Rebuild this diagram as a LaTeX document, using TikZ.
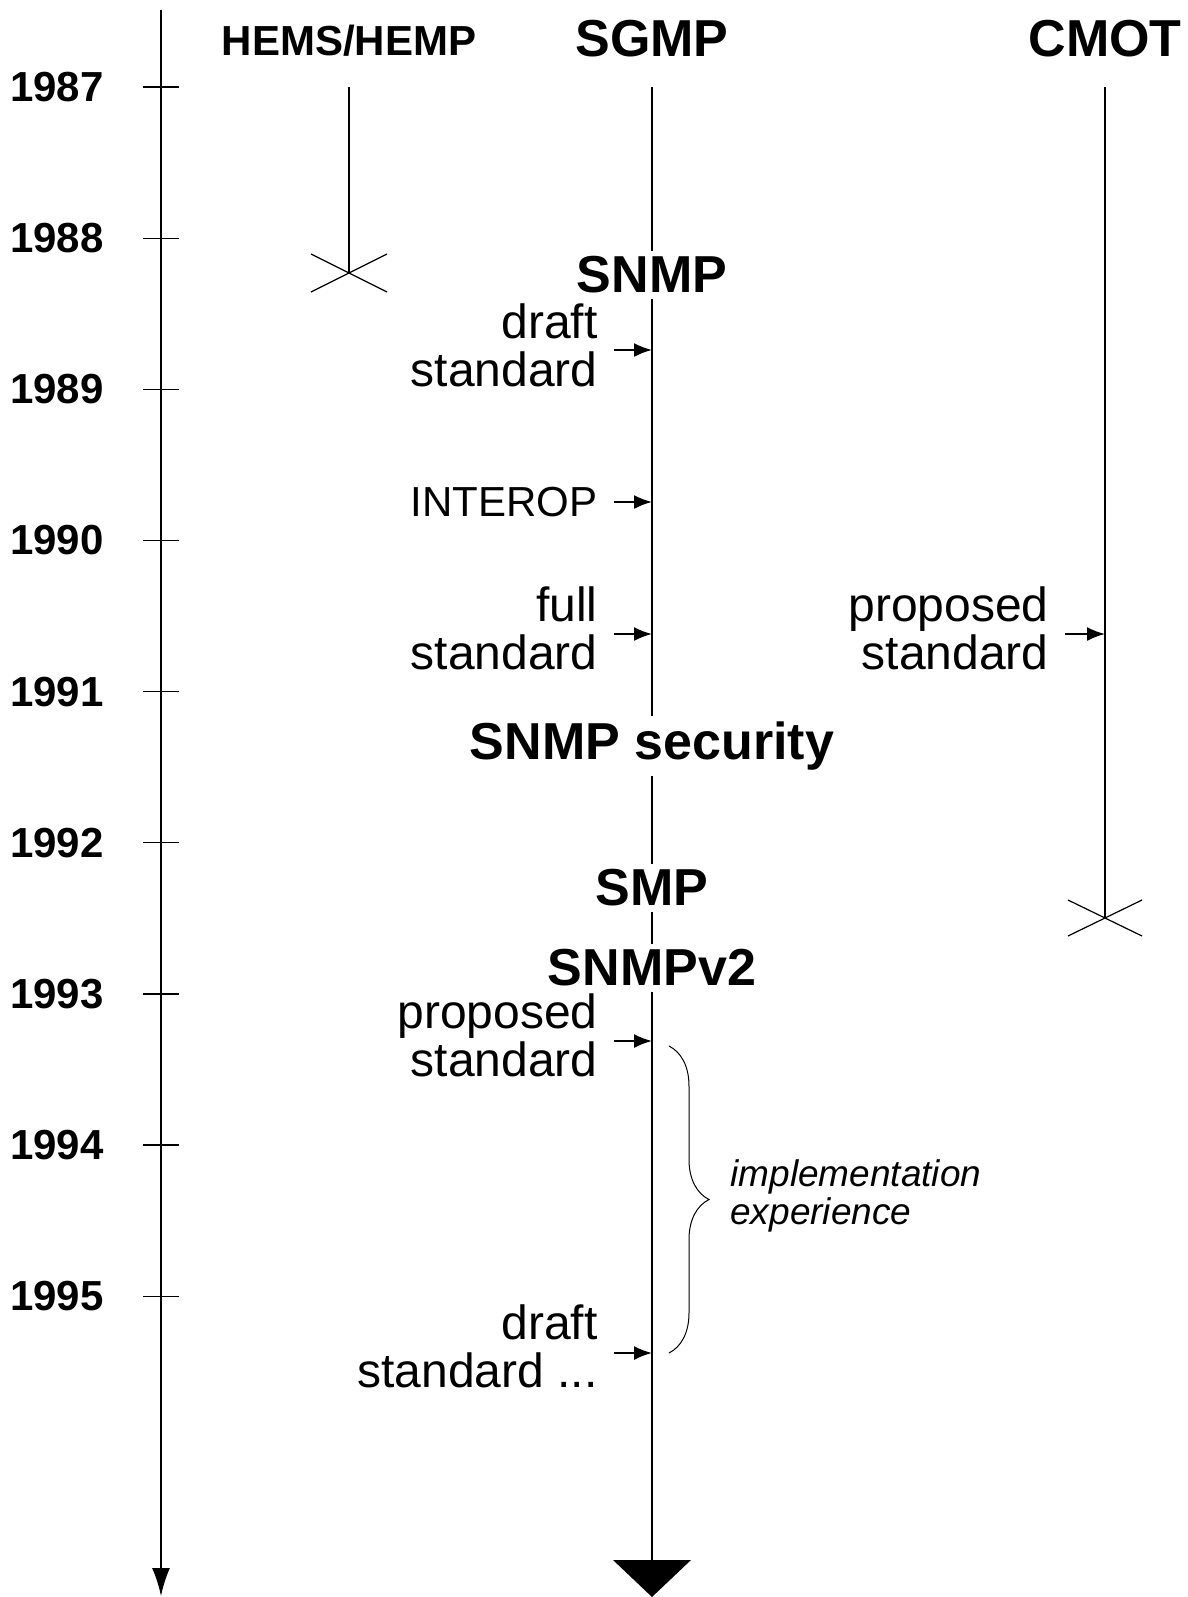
\documentclass[tikz,border=0pt]{standalone}
\usepackage{fontspec}
\setmainfont{Liberation Sans}
\usetikzlibrary{arrows.meta,decorations.pathreplacing}

\begin{document}
\begin{tikzpicture}[x=0.5pt,y=-0.5pt,
    year/.style={anchor=east,font=\bfseries\fontsize{21}{24}\selectfont,inner sep=0pt},
    big/.style={font=\bfseries\fontsize{26}{28}\selectfont,fill=white,inner sep=3pt},
    lbl/.style={anchor=east,align=right,font=\fontsize{24}{24}\selectfont,inner sep=2pt},
    event/.style={-{Latex[length=9pt,width=7pt]},line width=0.9pt},
    cross/.style={line width=0.6pt}]
\useasboundingbox (0,0) rectangle (1188,1597);

% time axis
\draw[line width=0.8pt,-{Latex[length=14pt,width=9pt]}] (161,10)--(161,1596);
\foreach \y [count=\i from 0] in {1987,...,1995}
{
    \draw[line width=0.6pt] (143,87+151.15*\i)--(179,87+151.15*\i);
    \node[year] (y\y) at (104,87+151.15*\i) {\y};
}

% protocol lines
\coordinate (hemsTop) at (349,87);  \coordinate (hemsEnd) at (349,273);
\coordinate (sgmpTop) at (652,87);  \coordinate (sgmpEnd) at (652,1560);
\coordinate (cmotTop) at (1105,87); \coordinate (cmotEnd) at (1105,918);

\node[font=\bfseries\fontsize{21}{24}\selectfont] (hems) at (349,41) {HEMS/HEMP};
\node[big,fill=none] (sgmp) at (652,39) {SGMP};
\node[big,fill=none] (cmot) at (1105,39) {CMOT};

\draw[line width=1pt] (hemsTop)--(hemsEnd);
\draw[cross] ([shift={(-38,-19)}]hemsEnd)--([shift={(38,19)}]hemsEnd);
\draw[cross] ([shift={(-38,19)}]hemsEnd)--([shift={(38,-19)}]hemsEnd);

\draw[line width=1pt] (cmotTop)--(cmotEnd);
\draw[cross] ([shift={(-37,-18)}]cmotEnd)--([shift={(37,18)}]cmotEnd);
\draw[cross] ([shift={(-37,18)}]cmotEnd)--([shift={(37,-18)}]cmotEnd);

\draw[line width=1.4pt] (sgmpTop)--(sgmpEnd);
\fill (sgmpEnd) ++(-39,0) -- ++(78,0) -- (652,1597) -- cycle;

% renamings
\node[big] (snmp) at (652,275) {SNMP};
\node[big] (snmpsec) at (652,746) {SNMP security};
\node[big] (smp) at (652,888) {SMP};
\node[big] (snmpv2) at (652,968) {SNMPv2};

% status changes
\node[lbl] (draftA) at (602,345) {draft\\standard};
\node[lbl,font=\fontsize{21}{24}\selectfont] (interop) at (602,502) {INTEROP};
\node[lbl] (fullA) at (602,628) {full\\standard};
\node[lbl] (propC) at (1053,628) {proposed\\standard};
\node[lbl] (propB) at (602,1035) {proposed\\standard};
\node[lbl] (draftB) at (602,1346) {draft\\standard ...};

\foreach \n/\yy in {draftA/350,interop/502,fullA/634,propB/1041,draftB/1353}
{
    \draw[event] (\n.east |- 0,\yy) ++(6pt,0) -- (sgmpTop |- 0,\yy);
}
\draw[event] (propC.east |- 0,634) ++(6pt,0) -- (cmotTop |- 0,634);

% implementation period
\draw[line width=0.5pt,decorate,decoration={brace,amplitude=20pt}] (669,1046)--(669,1353);
\node[anchor=west,align=left,font=\itshape\fontsize{18.5}{19}\selectfont,inner sep=0pt] (impl) at (730,1196) {implementation\\experience};

\end{tikzpicture}
\end{document}
